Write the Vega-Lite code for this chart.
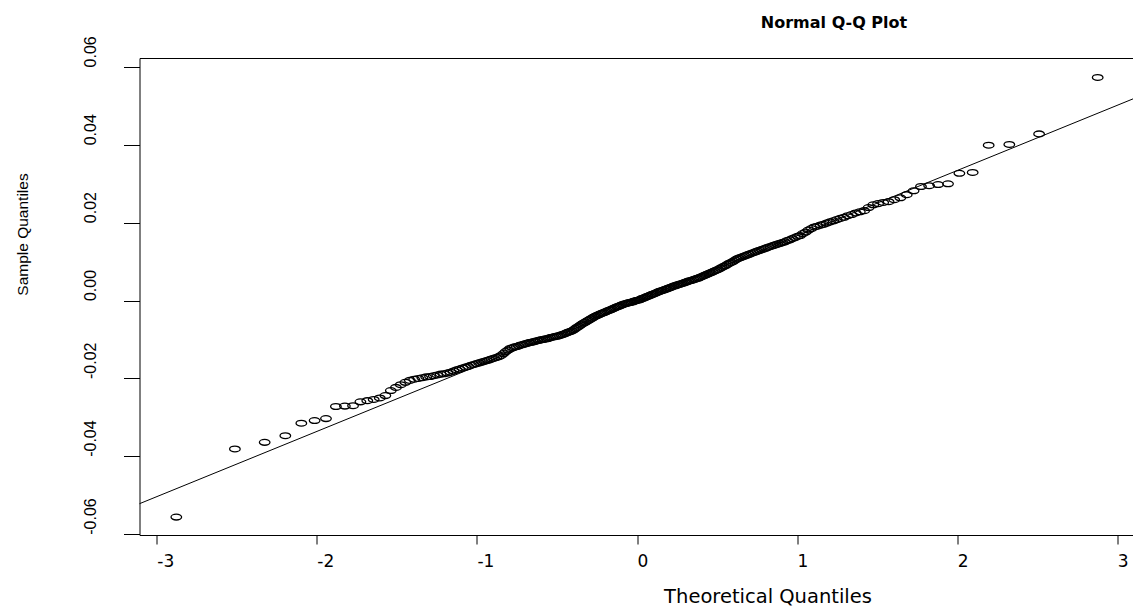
{
  "$schema": "https://vega.github.io/schema/vega-lite/v6.json",
  "width": 995,
  "height": 477,
  "autosize": "none",
  "padding": {"left": 139.5, "top": 58, "right": 0, "bottom": 73},
  "background": "white",
  "config": {"view": {"stroke": "black", "strokeWidth": 1}},
  "title": {"text": "Normal Q-Q Plot", "font": "DejaVu Sans", "fontWeight": "bold", "fontSize": 16, "color": "black", "anchor": "middle", "frame": "group", "dx": 197, "offset": -8, "baseline": "alphabetic"},
  "encoding": {
    "x": {"field": "x", "type": "quantitative", "scale": {"domain": [-3.108, 3.108], "nice": false, "zero": false},
      "axis": {"values": [-3, -2, -1, 0, 1, 2, 3], "labelExpr": "replace(format(datum.value, 'd'), '\u2212', '-')", "domain": false, "grid": false, "tickColor": "black", "tickSize": 9, "labelFont": "DejaVu Sans", "labelFontSize": 17, "labelColor": "black", "labelPadding": 9, "labelAlign": "left", "labelFlush": false, "labelOverlap": false, "title": "Theoretical Quantiles", "titleFont": "DejaVu Sans", "titleFontSize": 19.5, "titleFontWeight": "normal", "titleColor": "black", "titleX": 628, "titleY": 67, "titleAlign": "center", "titleBaseline": "alphabetic"}},
    "y": {"field": "y", "type": "quantitative", "scale": {"domain": [-0.0602, 0.0623], "nice": false, "zero": false},
      "axis": {"values": [-0.06, -0.04, -0.02, 0, 0.02, 0.04, 0.06], "labelExpr": "replace(format(datum.value, '.2f'), '\u2212', '-')", "domain": false, "grid": false, "tickColor": "black", "tickSize": 16, "labelAngle": 270, "labelAlign": "left", "labelBaseline": "middle", "labelPadding": 33, "labelFont": "Liberation Sans", "labelFontSize": 16, "labelColor": "black", "labelFlush": false, "labelOverlap": false, "title": "Sample Quantiles", "titleFont": "Liberation Sans", "titleFontSize": 15.5, "titleFontWeight": "normal", "titleColor": "black", "titleAngle": 270, "titleX": -117.5, "titleY": 176, "titleAlign": "center", "titleBaseline": "middle"}}
  },
  "layer": [
    {
      "data": {"values": [
        {"x":-2.878,"y":-0.0556},{"x":-2.512,"y":-0.0381},{"x":-2.326,"y":-0.0364},{"x":-2.197,"y":-0.0347},{"x":-2.097,"y":-0.0315},{"x":-2.014,"y":-0.0308},{"x":-1.943,"y":-0.0303},{"x":-1.881,"y":-0.0272},{"x":-1.825,"y":-0.0271},{"x":-1.774,"y":-0.027},
        {"x":-1.728,"y":-0.026},{"x":-1.685,"y":-0.0257},{"x":-1.645,"y":-0.0254},{"x":-1.607,"y":-0.025},{"x":-1.572,"y":-0.0244},{"x":-1.538,"y":-0.0231},{"x":-1.506,"y":-0.0223},{"x":-1.476,"y":-0.0216},{"x":-1.447,"y":-0.021},{"x":-1.419,"y":-0.0205},
        {"x":-1.392,"y":-0.0202},{"x":-1.366,"y":-0.02},{"x":-1.341,"y":-0.0198},{"x":-1.317,"y":-0.0196},{"x":-1.293,"y":-0.0195},{"x":-1.27,"y":-0.0193},{"x":-1.248,"y":-0.0191},{"x":-1.227,"y":-0.0189},{"x":-1.206,"y":-0.0188},{"x":-1.185,"y":-0.0186},
        {"x":-1.165,"y":-0.0184},{"x":-1.146,"y":-0.0181},{"x":-1.126,"y":-0.0178},{"x":-1.108,"y":-0.0176},{"x":-1.089,"y":-0.0173},{"x":-1.071,"y":-0.0171},{"x":-1.054,"y":-0.0169},{"x":-1.036,"y":-0.0166},{"x":-1.019,"y":-0.0164},{"x":-1.003,"y":-0.0162},
        {"x":-0.986,"y":-0.016},{"x":-0.97,"y":-0.0158},{"x":-0.954,"y":-0.0156},{"x":-0.938,"y":-0.0154},{"x":-0.923,"y":-0.0152},{"x":-0.908,"y":-0.015},{"x":-0.893,"y":-0.0148},{"x":-0.878,"y":-0.0146},{"x":-0.863,"y":-0.0144},{"x":-0.849,"y":-0.0141},
        {"x":-0.834,"y":-0.0136},{"x":-0.82,"y":-0.0131},{"x":-0.806,"y":-0.0127},{"x":-0.793,"y":-0.0123},{"x":-0.779,"y":-0.0121},{"x":-0.765,"y":-0.0119},{"x":-0.752,"y":-0.0118},{"x":-0.739,"y":-0.0116},{"x":-0.726,"y":-0.0114},{"x":-0.713,"y":-0.0113},
        {"x":-0.7,"y":-0.0111},{"x":-0.687,"y":-0.011},{"x":-0.674,"y":-0.0108},{"x":-0.662,"y":-0.0107},{"x":-0.649,"y":-0.0106},{"x":-0.637,"y":-0.0105},{"x":-0.625,"y":-0.0103},{"x":-0.613,"y":-0.0102},{"x":-0.601,"y":-0.0101},{"x":-0.589,"y":-0.01},
        {"x":-0.577,"y":-0.0099},{"x":-0.565,"y":-0.0098},{"x":-0.553,"y":-0.0097},{"x":-0.542,"y":-0.0095},{"x":-0.53,"y":-0.0094},{"x":-0.519,"y":-0.0093},{"x":-0.507,"y":-0.0092},{"x":-0.496,"y":-0.0091},{"x":-0.485,"y":-0.009},{"x":-0.473,"y":-0.0088},
        {"x":-0.462,"y":-0.0087},{"x":-0.451,"y":-0.0085},{"x":-0.44,"y":-0.0083},{"x":-0.429,"y":-0.0081},{"x":-0.418,"y":-0.008},{"x":-0.407,"y":-0.0078},{"x":-0.396,"y":-0.0075},{"x":-0.385,"y":-0.0072},{"x":-0.375,"y":-0.0069},{"x":-0.364,"y":-0.0066},
        {"x":-0.353,"y":-0.0063},{"x":-0.342,"y":-0.006},{"x":-0.332,"y":-0.0057},{"x":-0.321,"y":-0.0055},{"x":-0.311,"y":-0.0052},{"x":-0.3,"y":-0.005},{"x":-0.29,"y":-0.0047},{"x":-0.279,"y":-0.0045},{"x":-0.269,"y":-0.0042},{"x":-0.259,"y":-0.004},
        {"x":-0.248,"y":-0.0038},{"x":-0.238,"y":-0.0036},{"x":-0.228,"y":-0.0034},{"x":-0.217,"y":-0.0032},{"x":-0.207,"y":-0.0031},{"x":-0.197,"y":-0.0029},{"x":-0.187,"y":-0.0027},{"x":-0.176,"y":-0.0025},{"x":-0.166,"y":-0.0024},{"x":-0.156,"y":-0.0022},
        {"x":-0.146,"y":-0.002},{"x":-0.136,"y":-0.0018},{"x":-0.126,"y":-0.0016},{"x":-0.115,"y":-0.0015},{"x":-0.105,"y":-0.0013},{"x":-0.095,"y":-0.0011},{"x":-0.085,"y":-0.001},{"x":-0.075,"y":-0.0008},{"x":-0.065,"y":-0.0007},{"x":-0.055,"y":-0.0006},
        {"x":-0.045,"y":-0.0005},{"x":-0.035,"y":-0.0004},{"x":-0.025,"y":-0.0003},{"x":-0.015,"y":-0.0001},{"x":-0.005,"y":0},{"x":0.005,"y":0.0001},{"x":0.015,"y":0.0002},{"x":0.025,"y":0.0004},{"x":0.035,"y":0.0006},{"x":0.045,"y":0.0007},
        {"x":0.055,"y":0.0009},{"x":0.065,"y":0.0011},{"x":0.075,"y":0.0012},{"x":0.085,"y":0.0014},{"x":0.095,"y":0.0016},{"x":0.105,"y":0.0017},{"x":0.115,"y":0.0019},{"x":0.126,"y":0.0021},{"x":0.136,"y":0.0023},{"x":0.146,"y":0.0024},
        {"x":0.156,"y":0.0026},{"x":0.166,"y":0.0027},{"x":0.176,"y":0.0029},{"x":0.187,"y":0.003},{"x":0.197,"y":0.0032},{"x":0.207,"y":0.0033},{"x":0.217,"y":0.0035},{"x":0.228,"y":0.0037},{"x":0.238,"y":0.0038},{"x":0.248,"y":0.004},
        {"x":0.259,"y":0.0041},{"x":0.269,"y":0.0042},{"x":0.279,"y":0.0044},{"x":0.29,"y":0.0045},{"x":0.3,"y":0.0047},{"x":0.311,"y":0.0048},{"x":0.321,"y":0.005},{"x":0.332,"y":0.0051},{"x":0.342,"y":0.0052},{"x":0.353,"y":0.0054},
        {"x":0.364,"y":0.0055},{"x":0.375,"y":0.0057},{"x":0.385,"y":0.0058},{"x":0.396,"y":0.006},{"x":0.407,"y":0.0062},{"x":0.418,"y":0.0064},{"x":0.429,"y":0.0066},{"x":0.44,"y":0.0068},{"x":0.451,"y":0.007},{"x":0.462,"y":0.0072},
        {"x":0.473,"y":0.0074},{"x":0.485,"y":0.0076},{"x":0.496,"y":0.0078},{"x":0.507,"y":0.008},{"x":0.519,"y":0.0083},{"x":0.53,"y":0.0085},{"x":0.542,"y":0.0088},{"x":0.553,"y":0.009},{"x":0.565,"y":0.0093},{"x":0.577,"y":0.0096},
        {"x":0.589,"y":0.0098},{"x":0.601,"y":0.0101},{"x":0.613,"y":0.0104},{"x":0.625,"y":0.0107},{"x":0.637,"y":0.0109},{"x":0.649,"y":0.0111},{"x":0.662,"y":0.0113},{"x":0.674,"y":0.0115},{"x":0.687,"y":0.0117},{"x":0.7,"y":0.0119},
        {"x":0.713,"y":0.0121},{"x":0.726,"y":0.0123},{"x":0.739,"y":0.0125},{"x":0.752,"y":0.0127},{"x":0.765,"y":0.0129},{"x":0.779,"y":0.0131},{"x":0.793,"y":0.0133},{"x":0.806,"y":0.0135},{"x":0.82,"y":0.0137},{"x":0.834,"y":0.0139},
        {"x":0.849,"y":0.0141},{"x":0.863,"y":0.0143},{"x":0.878,"y":0.0145},{"x":0.893,"y":0.0147},{"x":0.908,"y":0.0149},{"x":0.923,"y":0.0151},{"x":0.938,"y":0.0154},{"x":0.954,"y":0.0156},{"x":0.97,"y":0.0159},{"x":0.986,"y":0.0162},
        {"x":1.003,"y":0.0165},{"x":1.019,"y":0.0167},{"x":1.036,"y":0.0172},{"x":1.054,"y":0.0176},{"x":1.071,"y":0.0181},{"x":1.089,"y":0.0185},{"x":1.108,"y":0.0189},{"x":1.126,"y":0.0191},{"x":1.146,"y":0.0194},{"x":1.165,"y":0.0196},
        {"x":1.185,"y":0.0199},{"x":1.206,"y":0.0202},{"x":1.227,"y":0.0205},{"x":1.248,"y":0.0208},{"x":1.27,"y":0.0211},{"x":1.293,"y":0.0214},{"x":1.317,"y":0.0218},{"x":1.341,"y":0.0221},{"x":1.366,"y":0.0225},{"x":1.392,"y":0.0228},
        {"x":1.419,"y":0.0231},{"x":1.447,"y":0.0239},{"x":1.476,"y":0.0246},{"x":1.506,"y":0.0249},{"x":1.538,"y":0.0252},{"x":1.572,"y":0.0254},{"x":1.607,"y":0.0259},{"x":1.645,"y":0.0264},{"x":1.685,"y":0.0272},{"x":1.728,"y":0.0282},
        {"x":1.774,"y":0.0293},{"x":1.825,"y":0.0295},{"x":1.881,"y":0.0298},{"x":1.943,"y":0.03},{"x":2.014,"y":0.0327},{"x":2.097,"y":0.0329},{"x":2.197,"y":0.0399},{"x":2.326,"y":0.0401},{"x":2.512,"y":0.0428},{"x":2.878,"y":0.0573}
      ]},
      "mark": {"type": "point", "shape": "M-1,0C-1,-0.304,-0.552,-0.55,0,-0.55C0.552,-0.55,1,-0.304,1,0C1,0.304,0.552,0.55,0,0.55C-0.552,0.55,-1,0.304,-1,0Z", "size": 112, "filled": false, "stroke": "black", "strokeWidth": 1.3, "opacity": 1, "clip": true}
    },
    {
      "data": {"values": [{"x": -3.2, "y": -0.0537}, {"x": 3.2, "y": 0.0535}]},
      "mark": {"type": "line", "color": "black", "strokeWidth": 1, "clip": true}
    }
  ]
}
